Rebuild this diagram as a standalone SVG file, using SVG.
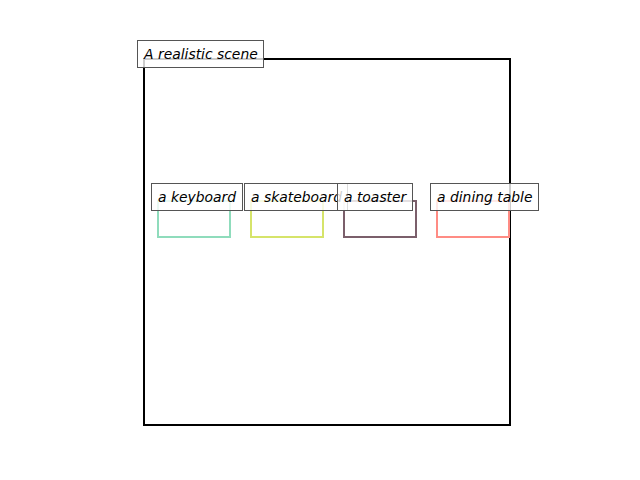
<svg xmlns="http://www.w3.org/2000/svg" width="640" height="480" viewBox="0 0 640 480">
<style>
.lbl{fill:#ffffff;fill-opacity:0.8;stroke:#555555;stroke-width:1}
.t{font-family:"DejaVu Sans",sans-serif;font-style:italic;font-size:13.9px;fill:#000}
.box{fill:none;stroke-width:2}
</style>
<rect width="640" height="480" fill="#ffffff"/>
<g id="scene">
<rect x="144" y="59" width="366" height="366" fill="none" stroke="#000" stroke-width="2"/>
</g>
<g id="keyboard-box"><rect class="box" x="158" y="201" width="72" height="36" stroke="#8fdcbc"/></g>
<g id="skateboard-box"><rect class="box" x="251" y="201" width="72" height="36" stroke="#d6e46a"/></g>
<g id="toaster-box"><rect class="box" x="344" y="201" width="72" height="36" stroke="#7b5f6b"/></g>
<g id="dining-box"><rect class="box" x="437" y="201" width="72" height="36" stroke="#ff8c84"/></g>
<g id="title"><rect class="lbl" x="137.5" y="40.5" width="126" height="27"/><text class="t" x="144" y="59">A realistic scene</text></g>
<g id="keyboard-label"><rect class="lbl" x="151.5" y="183.5" width="91" height="27"/><text class="t" x="158" y="202">a keyboard</text></g>
<g id="skateboard-label"><rect class="lbl" x="244.5" y="183.5" width="103" height="27"/><text class="t" x="251" y="202">a skateboard</text></g>
<g id="toaster-label"><rect class="lbl" x="337.5" y="183.5" width="75" height="27"/><text class="t" x="344" y="202">a toaster</text></g>
<g id="dining-label"><rect class="lbl" x="430.5" y="183.5" width="108" height="27"/><text class="t" x="437" y="202">a dining table</text></g>
</svg>
